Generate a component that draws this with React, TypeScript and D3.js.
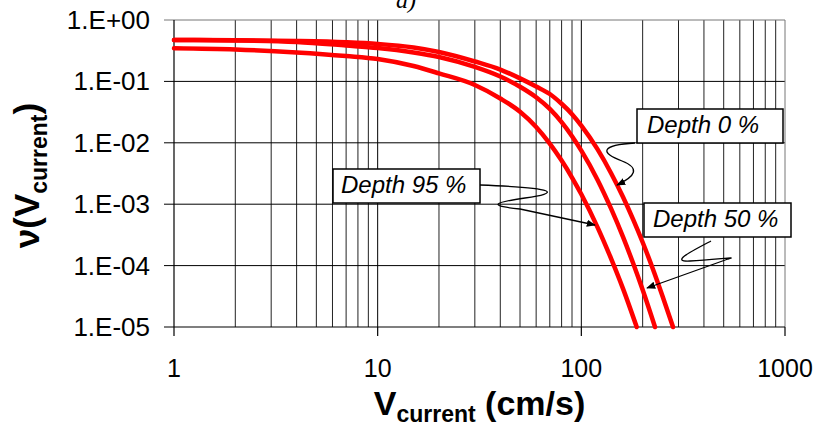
import React from 'react';
import * as d3 from 'd3';

// ---- data ----
const velDepth0 = [1, 2, 4, 7, 10, 15, 20, 30, 40, 50, 60, 70, 80, 90, 100, 120, 140, 160, 180, 200, 225, 250, 282];
const valDepth0 = [0.472, 0.467, 0.455, 0.433, 0.407, 0.357, 0.301, 0.211, 0.156, 0.112, 0.0826, 0.0623, 0.0432, 0.0293, 0.0191, 0.00787, 0.0032, 0.00132, 0.000555, 0.00024, 0.0000867, 0.0000324, 0.00001];

const velDepth50 = [1, 2, 4, 7, 10, 15, 20, 30, 40, 50, 60, 70, 80, 90, 100, 120, 140, 160, 180, 200, 230];
const valDepth50 = [0.472, 0.464, 0.438, 0.384, 0.35, 0.296, 0.25, 0.172, 0.12, 0.082, 0.0553, 0.0357, 0.0217, 0.0128, 0.00746, 0.00251, 0.000845, 0.000296, 0.000107, 0.0000403, 0.00001];

const velDepth95 = [1, 2, 4, 7, 10, 15, 20, 30, 40, 50, 60, 70, 80, 90, 100, 120, 140, 160, 187];
const valDepth95 = [0.346, 0.331, 0.296, 0.259, 0.232, 0.178, 0.135, 0.0874, 0.0527, 0.0321, 0.0181, 0.0097, 0.00513, 0.00272, 0.00145, 0.000424, 0.00013, 0.0000426, 0.00001];

const yTickValues = [1, 0.1, 0.01, 0.001, 0.0001, 0.00001];
const yTickLabels = ['1.E+00', '1.E-01', '1.E-02', '1.E-03', '1.E-04', '1.E-05'];
const xTickValues = [1, 10, 100, 1000];
const xTickLabels = ['1', '10', '100', '1000'];

const labelDepth0 = 'Depth 0 %';
const labelDepth50 = 'Depth 50 %';
const labelDepth95 = 'Depth 95 %';

const W = 822;
const H = 426;
const L = 174, R = 785, T = 20, B = 327;

export default function App() {
  const x = d3.scaleLog().domain([1, 1000]).range([L, R]);
  const y = d3.scaleLog().domain([1e-5, 1]).range([B, T]);

  const minor: number[] = [];
  for (let d = 1; d < 1000; d *= 10) {
    for (let k = 2; k <= 9; k++) minor.push(d * k);
  }

  const line = d3
    .line<[number, number]>()
    .x((d) => x(d[0]))
    .y((d) => y(d[1]))
    .curve(d3.curveMonotoneX);

  const series = [
    velDepth0.map((v, i) => [v, valDepth0[i]] as [number, number]),
    velDepth50.map((v, i) => [v, valDepth50[i]] as [number, number]),
    velDepth95.map((v, i) => [v, valDepth95[i]] as [number, number]),
  ];

  const font = '"Liberation Sans", Arial, sans-serif';

  return (
    <svg
      width={W}
      height={H}
      style={{ position: 'absolute', left: 0, top: 0, background: '#fff' }}
      fontFamily={font}
    >
      <defs>
        <marker id="arr" viewBox="0 0 10 10" refX="9" refY="5" markerWidth="7" markerHeight="7" orient="auto-start-reverse">
          <path d="M0,1 L10,5 L0,9 z" fill="#000" />
        </marker>
      </defs>
      <rect x={0} y={0} width={W} height={H} fill="#fff" />
      {/* title fragment */}
      <text x={396} y={8} fontFamily='"Liberation Serif", "Times New Roman", serif' fontStyle="italic" fontSize={24}>
        a)
      </text>

      {/* vertical minor grid */}
      {minor.map((v) => (
        <line key={'m' + v} x1={x(v)} x2={x(v)} y1={T} y2={B} stroke="#222" strokeWidth={1} />
      ))}
      {xTickValues.slice(1, 3).map((v) => (
        <line key={'xv' + v} x1={x(v)} x2={x(v)} y1={T} y2={B} stroke="#000" strokeWidth={1} />
      ))}
      {/* horizontal grid */}
      {yTickValues.slice(1, 5).map((v) => (
        <line key={'h' + v} x1={L - 10} x2={R} y1={y(v)} y2={y(v)} stroke="#000" strokeWidth={1} />
      ))}
      {/* border */}
      <line x1={L - 10} x2={R} y1={T} y2={T} stroke="#777" strokeWidth={1} />
      <line x1={R} x2={R} y1={T} y2={B} stroke="#777" strokeWidth={1} />
      <line x1={L} x2={L} y1={T} y2={B} stroke="#000" strokeWidth={1.2} />
      <line x1={L - 10} x2={R} y1={B} y2={B} stroke="#000" strokeWidth={1.2} />
      {xTickValues.map((v) => (
        <line key={'xt' + v} x1={x(v)} x2={x(v)} y1={B} y2={B + 9} stroke="#000" strokeWidth={1.2} />
      ))}

      {/* curves */}
      {series.map((s, i) => (
        <path key={'s' + i} d={line(s) || ''} fill="none" stroke="#ff0000" strokeWidth={4.5} strokeLinecap="round" strokeLinejoin="round" />
      ))}

      {/* tick labels */}
      {yTickValues.map((v, i) => (
        <text key={'yl' + v} x={150} y={y(v) + 9} textAnchor="end" fontSize={26} fill="#000">
          {yTickLabels[i]}
        </text>
      ))}
      {xTickValues.map((v, i) => (
        <text key={'xl' + v} x={x(v)} y={377} textAnchor="middle" fontSize={25} fill="#000">
          {xTickLabels[i]}
        </text>
      ))}

      {/* axis titles */}
      <text x={(L + R) / 2} y={415} textAnchor="middle" fontSize={34} fontWeight="bold" fill="#000">
        V<tspan fontSize={23} dy={7}>current</tspan>
        <tspan dy={-7}> (cm/s)</tspan>
      </text>
      <text
        transform={`translate(39, ${(T + B) / 2 + 2}) rotate(-90)`}
        textAnchor="middle"
        fontSize={35}
        fontWeight="bold"
        fill="#000"
      >
        ν(V<tspan fontSize={23} dy={8}>current</tspan>
        <tspan dy={-8}>)</tspan>
      </text>

      {/* connectors */}
      <path d="M635,143 C 600,145 600,153 622,161 C 640,168 636,176 617,185" fill="none" stroke="#000" strokeWidth={1.3} markerEnd="url(#arr)" />
      <path d="M711,241 C 690,252 670,262 690,261 C 715,260 740,256 728,259 L 647,288" fill="none" stroke="#000" strokeWidth={1.3} markerEnd="url(#arr)" />
      <path d="M480,185 C 560,188 560,193 525,198 C 490,203 490,206 520,209 L 595,225" fill="none" stroke="#000" strokeWidth={1.3} markerEnd="url(#arr)" />

      {/* annotation boxes */}
      <rect x={637} y={109} width={146} height={34} fill="#fff" stroke="#000" strokeWidth={1.5} />
      <text x={647} y={133} fontSize={24} fontStyle="italic" fill="#000">{labelDepth0}</text>
      <rect x={644} y={203} width={147} height={34} fill="#fff" stroke="#000" strokeWidth={1.5} />
      <text x={653} y={227} fontSize={24} fontStyle="italic" fill="#000">{labelDepth50}</text>
      <rect x={333} y={169} width={147} height={34} fill="#fff" stroke="#000" strokeWidth={1.5} />
      <text x={341} y={193} fontSize={24} fontStyle="italic" fill="#000">{labelDepth95}</text>
    </svg>
  );
}
